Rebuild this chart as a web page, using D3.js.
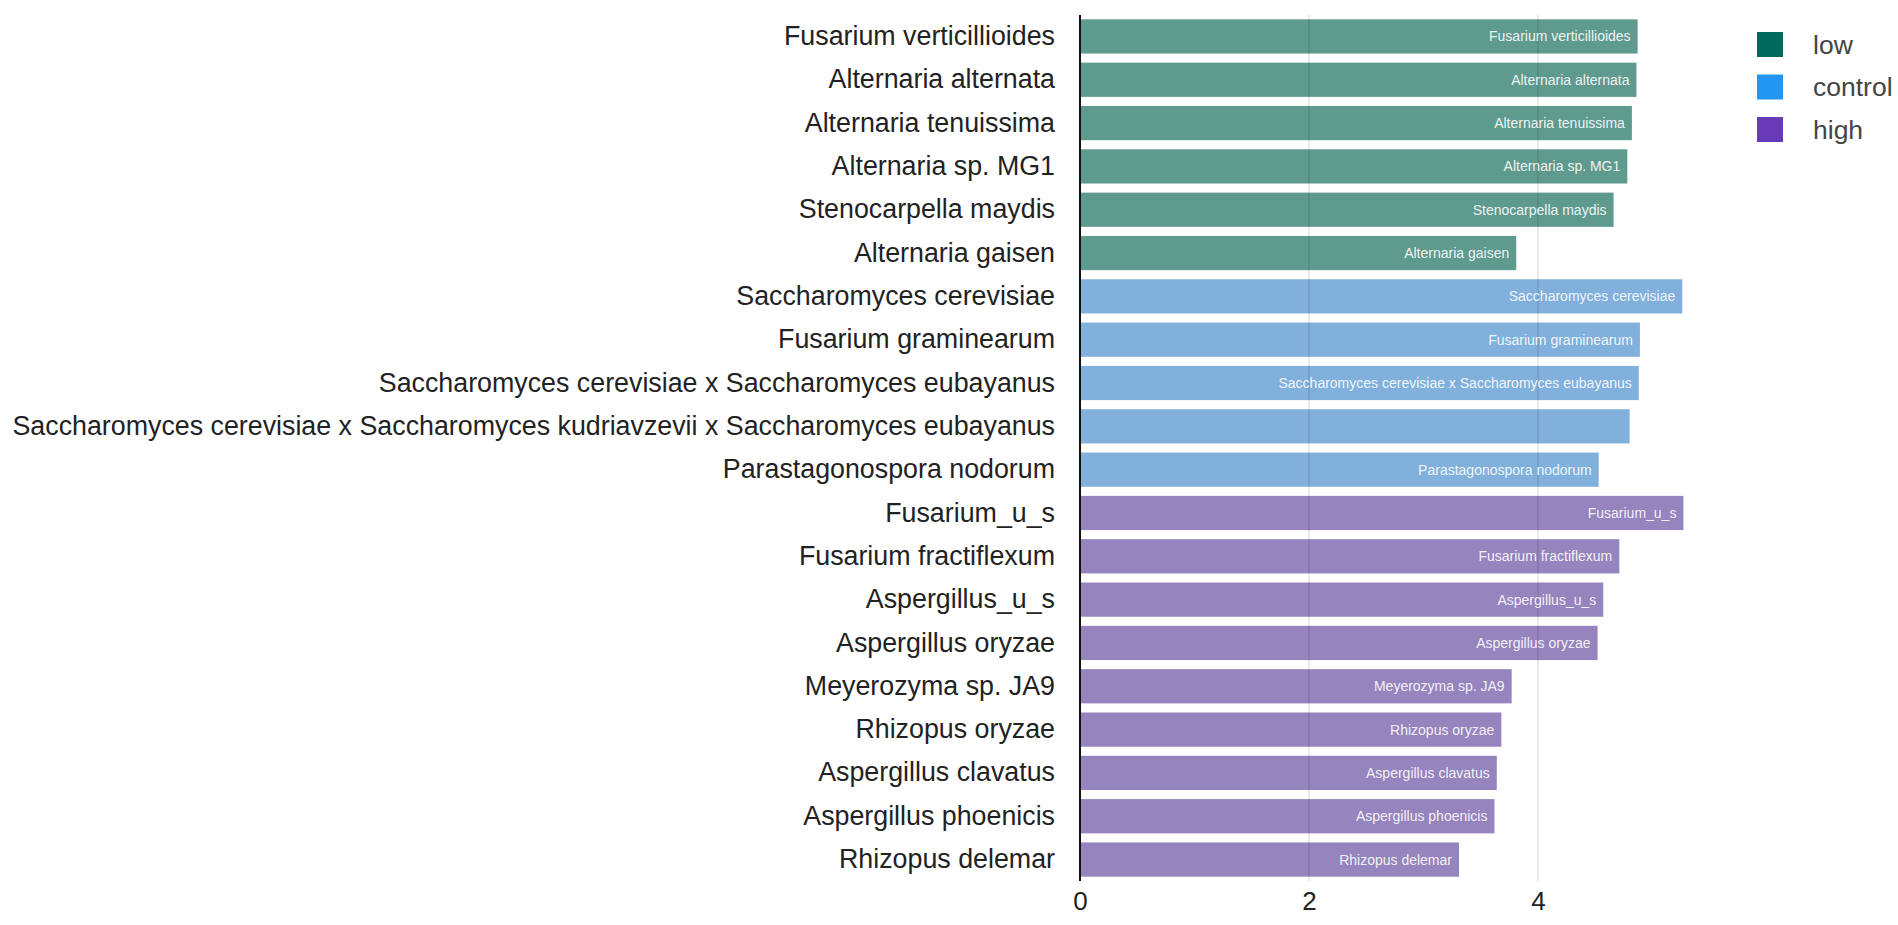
<!DOCTYPE html>
<html>
<head>
<meta charset="utf-8">
<script src="https://cdn.jsdelivr.net/npm/d3@7/dist/d3.min.js"></script>
<style>
  html, body { margin: 0; padding: 0; background: #fff; }
  svg { display: block; font-family: "Liberation Sans", Arial, sans-serif; }
</style>
</head>
<body>
<svg id="chart" width="1898" height="925"></svg>
<script>
const categories = [
  "Fusarium verticillioides",
  "Alternaria alternata",
  "Alternaria tenuissima",
  "Alternaria sp. MG1",
  "Stenocarpella maydis",
  "Alternaria gaisen",
  "Saccharomyces cerevisiae",
  "Fusarium graminearum",
  "Saccharomyces cerevisiae x Saccharomyces eubayanus",
  "Saccharomyces cerevisiae x Saccharomyces kudriavzevii x Saccharomyces eubayanus",
  "Parastagonospora nodorum",
  "Fusarium_u_s",
  "Fusarium fractiflexum",
  "Aspergillus_u_s",
  "Aspergillus oryzae",
  "Meyerozyma sp. JA9",
  "Rhizopus oryzae",
  "Aspergillus clavatus",
  "Aspergillus phoenicis",
  "Rhizopus delemar"
];
const values = [4.87, 4.86, 4.82, 4.78, 4.66, 3.81, 5.26, 4.89, 4.88, 4.80, 4.53, 5.27, 4.71, 4.57, 4.52, 3.77, 3.68, 3.64, 3.62, 3.31];
const groups = ["low","low","low","low","low","low","control","control","control","control","control","high","high","high","high","high","high","high","high","high"];
// inner label shown in the bar (the longest one is left out in the reference)
const innerShown = [1,1,1,1,1,1,1,1,1,0,1,1,1,1,1,1,1,1,1,1];
const legendKeys = ["low", "control", "high"];
const legendColors = ["#00695c", "#2196f3", "#673ab7"];
const barColors = ["#5f9a8f", "#80b0db", "#9584bd"];
const xTicks = [0, 2, 4];

const data = categories.map((c, i) => ({ name: c, value: values[i], group: groups[i], shown: innerShown[i] }));

const svg = d3.select("#chart");
const x = d3.scaleLinear().domain([0, 6]).range([1080, 1767]);
const y = d3.scaleBand().domain(categories).range([15, 881]).paddingInner(0.21).paddingOuter(0.1);
const barColor = d3.scaleOrdinal().domain(legendKeys).range(barColors);
const legColor = d3.scaleOrdinal().domain(legendKeys).range(legendColors);

// bars
svg.append("g").selectAll("rect").data(data).join("rect")
  .attr("x", x(0))
  .attr("y", d => y(d.name))
  .attr("width", d => x(d.value) - x(0))
  .attr("height", y.bandwidth())
  .attr("fill", d => barColor(d.group));

// gridlines (on top, translucent)
svg.append("g").selectAll("line").data(xTicks.filter(t => t > 0)).join("line")
  .attr("x1", d => x(d)).attr("x2", d => x(d))
  .attr("y1", 15).attr("y2", 881)
  .attr("stroke", "rgba(0,0,0,0.11)")
  .attr("stroke-width", 1.5);

// inner bar labels
svg.append("g").selectAll("text").data(data.filter(d => d.shown)).join("text")
  .attr("x", d => x(d.value) - 7)
  .attr("y", d => y(d.name) + y.bandwidth() / 2)
  .attr("text-anchor", "end")
  .attr("dominant-baseline", "central")
  .attr("font-size", "14px")
  .attr("fill", "rgba(255,255,255,0.9)")
  .text(d => d.name);

// x axis
const xAxis = d3.axisBottom(x).tickValues(xTicks).tickSize(0).tickPadding(11).tickFormat(d3.format("d"));
const gx = svg.append("g").attr("transform", "translate(0,881)").call(xAxis);
gx.select(".domain").remove();
gx.selectAll("text").attr("font-size", "26px").attr("fill", "#222").attr("font-family", "Liberation Sans, Arial, sans-serif");

// y axis
const yAxis = d3.axisLeft(y).tickSize(0).tickPadding(25);
const gy = svg.append("g").attr("transform", `translate(${x(0)},0)`).call(yAxis);
gy.select(".domain").attr("d", "M0,15V881").attr("stroke", "#111").attr("stroke-width", 2);
gy.selectAll("text").attr("font-size", "26.8px").attr("fill", "#222").attr("font-family", "Liberation Sans, Arial, sans-serif");

// legend
const leg = svg.append("g").selectAll("g").data(legendKeys).join("g")
  .attr("transform", (d, i) => `translate(1757, ${32 + i * 42.5})`);
leg.append("rect").attr("width", 26).attr("height", 25).attr("fill", d => legColor(d));
leg.append("text").attr("x", 56).attr("y", 12.5).attr("dominant-baseline", "central")
  .attr("font-size", "26.5px").attr("fill", "#444").text(d => d);
</script>
</body>
</html>
